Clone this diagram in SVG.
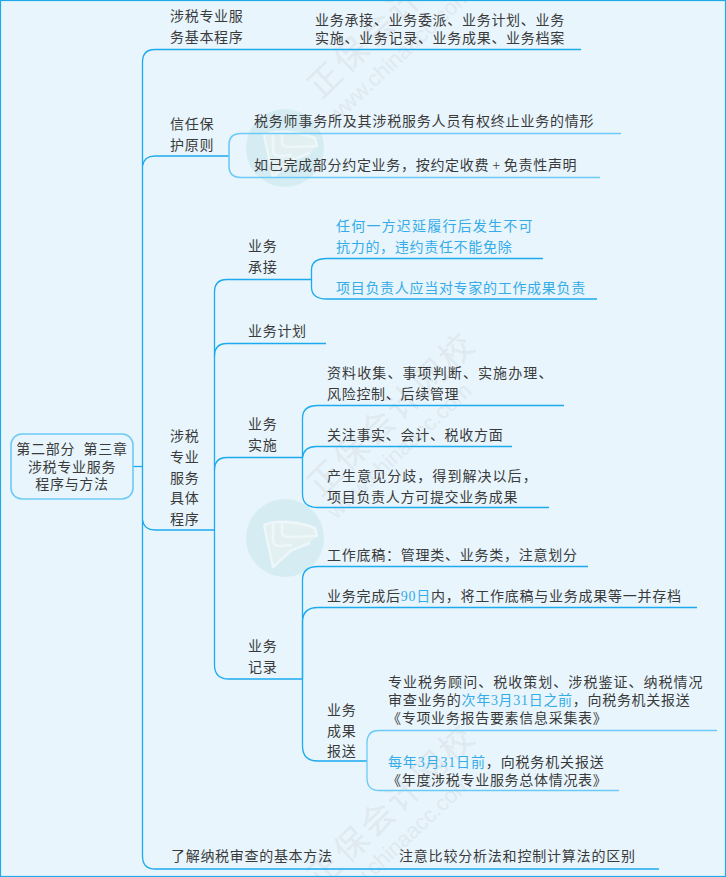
<svg xmlns="http://www.w3.org/2000/svg" width="726" height="877" viewBox="0 0 726 877">
<style>
text{font-family:"Liberation Serif","Noto Sans CJK SC",serif;font-size:14px;letter-spacing:.7px;fill:#3a3a3a}
.b,tspan.b{fill:#35ace8}
.c{text-anchor:middle}
.l{fill:none;stroke:#1cabee;stroke-width:1.3}
.p{fill:none;stroke:#6ccaf6;stroke-width:1.6}
.wm{font-family:"Noto Sans CJK SC",sans-serif;fill:#dfe9ef;letter-spacing:3.500px;font-size:33px}
.wm2{font-family:"Liberation Sans",sans-serif;fill:#dfe9ef;letter-spacing:0;font-size:22px}
.lg{fill:none;stroke:#edf6f9;stroke-width:2.500;stroke-linejoin:round}
</style>
<defs>
<g id="logo">
<circle r="39" fill="#d5ecf3"/>
<path d="M-21 -13L-12 29L7 12L25 5L32 -2L30 -10Q12 -17 -6 -16Q-15 -17 -21 -13z" fill="#e3f0f1"/>
<path class="lg" d="M-21 -13L-12 29L7 12L25 5"/>
<path class="lg" d="M-21 -13Q-8 -18 -3 -15V-6Q-3 -1 3 -1L32 -2L30 -10Q12 -17 -6 -16"/>
<path class="lg" d="M-12 -14V2Q-12 8 -5 8L7 7"/>
</g>
</defs>
<rect x="0" y="0" width="726" height="877" fill="#e8f5fd"/>
<g id="watermarks">
<g id="wm1"><text class="wm" transform="translate(321 100) rotate(-44)">正保会计网校</text><text class="wm2" transform="translate(336 124) rotate(-43)">www.chinaacc.com</text></g>
<g id="wm2"><text class="wm" transform="translate(321 498) rotate(-44)">正保会计网校</text><text class="wm2" transform="translate(336 520) rotate(-43)">www.chinaacc.com</text></g>
<g id="wm3"><text class="wm" transform="translate(321 890) rotate(-44)">正保会计网校</text><text class="wm2" transform="translate(336 912) rotate(-43)">www.chinaacc.com</text></g>
<use href="#logo" x="285" y="148"/>
<use href="#logo" x="285" y="538"/>
</g>
<rect id="frame" x=".5" y=".5" width="725" height="876" fill="none" stroke="#1ea9ea" stroke-width="1.2"/>
<g id="connectors">
<path class="l" d="M133 466.500H142.500"/>
<path class="l" d="M581 49.500H155Q142.500 49.500 142.500 62V856Q142.500 869 155 869H659"/>
<path class="l" d="M142.500 166Q144 156 155 156H229"/>
<path class="l" d="M142.500 520Q144 530 155 530H214"/>
<path class="p" d="M621 133.500H241Q229 133.500 229 145V166Q229 177.500 241 177.500H600"/>
<path class="l" d="M214.500 530V292Q214.500 279.500 227 279.500H311"/>
<path class="l" d="M214.500 530V665Q214.500 679 229 679H302.500"/>
<path class="l" d="M214.500 356Q214.500 343.500 227 343.500H326"/>
<path class="l" d="M214.500 470Q214.500 457.500 227 457.500H302.500"/>
<path class="l" d="M543 258.500H327Q311.500 258.500 311.500 270V287Q311.500 299 327 299H597"/>
<path class="l" d="M564 405.500H318Q302.500 405.500 302.500 418V457.500"/>
<path class="l" d="M512 446.500H316Q304 446.500 302.500 457.500V494Q302.500 507.500 318 507.500H549"/>
<path class="l" d="M588 566.500H318Q302.500 566.500 302.500 580V679"/>
<path class="l" d="M697 607.500H318Q302.500 607.500 302.500 622V746Q302.500 761 318 761H367"/>
<path class="p" d="M717 730.500H379Q367 730.500 367 743V778Q367 790.500 379 790.500H619" style="stroke-width:1.3"/>
</g>
<g id="n-root"><rect class="p" x="11" y="434" width="122" height="65" rx="11"/><text class="c" x="72" y="454">第二部分&#160;&#160;第三章</text><text class="c" x="72" y="472">涉税专业服务</text><text class="c" x="72" y="489">程序与方法</text></g>
<g id="n-basic"><text x="170" y="21">涉税专业服</text><text x="170" y="42">务基本程序</text></g>
<g id="n-basic-d"><text x="315" y="25">业务承接、业务委派、业务计划、业务</text><text x="315" y="43">实施、业务记录、业务成果、业务档案</text></g>
<g id="n-trust"><text x="170" y="129">信任保</text><text x="170" y="150">护原则</text></g>
<g id="n-trust-1"><text x="254" y="126" style="letter-spacing:.8px">税务师事务所及其涉税服务人员有权终止业务的情形</text></g>
<g id="n-trust-2"><text x="254" y="170">如已完成部分约定业务，按约定收费<tspan dx="3">+</tspan><tspan dx="3">免责性声明</tspan></text></g>
<g id="n-proc"><text x="170" y="441">涉税</text><text x="170" y="462">专业</text><text x="170" y="483">服务</text><text x="170" y="503">具体</text><text x="170" y="524">程序</text></g>
<g id="n-accept"><text x="248" y="251">业务</text><text x="248" y="272">承接</text></g>
<g id="n-accept-1"><text class="b" x="336" y="231" style="letter-spacing:1.200px">任何一方迟延履行后发生不可</text><text class="b" x="336" y="252">抗力的，违约责任不能免除</text></g>
<g id="n-accept-2"><text class="b" x="336" y="293">项目负责人应当对专家的工作成果负责</text></g>
<g id="n-plan"><text x="248" y="336">业务计划</text></g>
<g id="n-impl"><text x="248" y="429">业务</text><text x="248" y="450">实施</text></g>
<g id="n-impl-1"><text x="327" y="378" style="letter-spacing:1.100px">资料收集、事项判断、实施办理、</text><text x="327" y="399">风险控制、后续管理</text></g>
<g id="n-impl-2"><text x="327" y="440">关注事实、会计、税收方面</text></g>
<g id="n-impl-3"><text x="327" y="481" style="letter-spacing:1.050px">产生意见分歧，得到解决以后，</text><text x="327" y="502">项目负责人方可提交业务成果</text></g>
<g id="n-rec"><text x="248" y="651">业务</text><text x="248" y="672">记录</text></g>
<g id="n-rec-1"><text x="327" y="560" style="letter-spacing:.75px">工作底稿：管理类、业务类，注意划分</text></g>
<g id="n-rec-2"><text x="327" y="601" style="letter-spacing:.75px">业务完成后<tspan class="b">90日</tspan>内，将工作底稿与业务成果等一并存档</text></g>
<g id="n-rec-3"><text x="327" y="715">业务</text><text x="327" y="736">成果</text><text x="327" y="756">报送</text></g>
<g id="n-rep-1"><text x="388" y="687" style="letter-spacing:1.030px">专业税务顾问、税收策划、涉税鉴证、纳税情况</text><text x="388" y="705">审查业务的<tspan class="b">次年3月31日之前</tspan>，向税务机关报送</text><text x="387" y="723">《专项业务报告要素信息采集表》</text></g>
<g id="n-rep-2"><text x="388" y="767" style="letter-spacing:.85px"><tspan class="b">每年3月31日前</tspan>，向税务机关报送</text><text x="387" y="785">《年度涉税专业服务总体情况表》</text></g>
<g id="n-review"><text x="171" y="861">了解纳税审查的基本方法</text></g>
<g id="n-review-d"><text x="399" y="861" style="letter-spacing:.8px">注意比较分析法和控制计算法的区别</text></g>
</svg>
